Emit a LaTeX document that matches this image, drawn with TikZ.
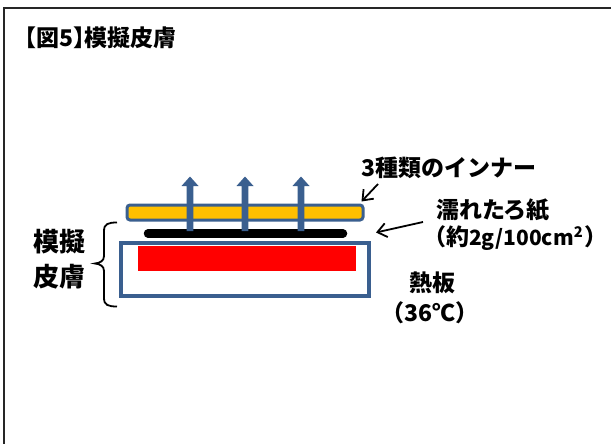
\documentclass[tikz,border=0pt]{standalone}
\usepackage{fontspec}
\setmainfont{Noto Sans CJK JP}
\usetikzlibrary{arrows.meta}
\definecolor{frameblue}{RGB}{58,95,143}
\definecolor{barorange}{RGB}{255,192,0}
\definecolor{hotred}{RGB}{255,0,0}
\tikzset{
  lbl/.style={anchor=west, inner sep=0pt, font=\fontsize{23}{26}\selectfont\bfseries},
  big/.style={anchor=center, inner sep=0pt, font=\fontsize{26}{35}\selectfont\bfseries, align=center},
  thinarrow/.style={draw=black, line width=1.8pt, -{Straight Barb[length=9pt,width=14pt,line width=1.8pt]}},
}
\begin{document}
\begin{tikzpicture}[x=1pt,y=-1pt]
\useasboundingbox (0,0) rectangle (611,444);
% frame
\draw[line width=2pt, black!85] (611,8.5) -- (3.5,8.5) -- (3.5,444);
% title
\node[anchor=west, inner sep=0pt, font=\fontsize{23}{26}\selectfont\bfseries] (title) at (13,37.5) {【図5】\kern-0.5em 模擬皮膚};
% hot plate box
\node[draw=frameblue, line width=3.2pt, minimum width=248pt, minimum height=53pt, inner sep=0pt] (plate) at (245,269.5) {};
\node[fill=hotred, minimum width=218pt, minimum height=25pt, inner sep=0pt] (heat) at (247,258.5) {};
% wet paper
\coordinate (pl) at (148,233.5);
\coordinate (pr) at (343,233.5);
\draw[line width=8.5pt, line cap=round, black] (pl) -- (pr);
% inner bar
\node[draw=frameblue, fill=barorange, line width=3pt, rounded corners=3pt, minimum width=236pt, minimum height=15pt, inner sep=0pt] (inner) at (245,212.5) {};
% block arrows
\foreach \x in {190,245,301}{
  \fill[frameblue] (\x-3.3,231) -- (\x-3.3,186) -- (\x-8.5,186) -- (\x,176.5) -- (\x+8.5,186) -- (\x+3.3,186) -- (\x+3.3,231) -- cycle;
}
% brace
\draw[line width=1.8pt, black] (117,222.5) .. controls (108,222.5) and (104,224) .. (104,231) -- (104,256) .. controls (104,261) and (100,263) .. (95,263.5) .. controls (100,264) and (104,266) .. (104,271) -- (104,298) .. controls (104,305) and (108,306.5) .. (117,306.5);
\node[big] (skin) at (59,259.5) {模擬\\皮膚};
% labels
\node[lbl] (lin) at (361,168) {3種類のインナー};
\node[lbl] (lwet) at (436,210) {濡れたろ紙};
\node[lbl] (lwet2) at (423,238) {（約{\fontsize{21}{26}\selectfont 2g/100cm\textsuperscript{2}}\kern1.5pt）};
\node[lbl] (lhot) at (409,283) {熱板};
\node[lbl] (lhot2) at (381,313) {（36℃）};
% pointer arrows
\coordinate (ta) at (378,184);
\coordinate (tb) at (361.5,201.5);
\draw[thinarrow] (ta) -- (tb);
\coordinate (wa) at (423,222);
\coordinate (wb) at (376,232.5);
\draw[thinarrow] (wa) -- (wb);
\end{tikzpicture}
\end{document}
